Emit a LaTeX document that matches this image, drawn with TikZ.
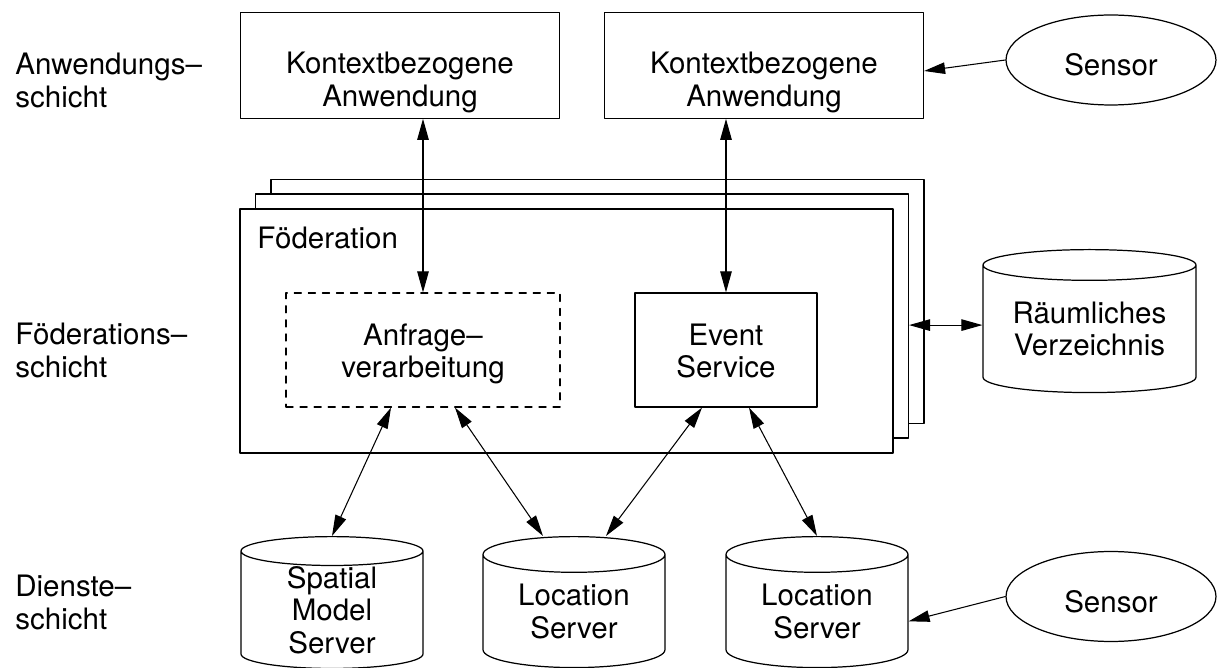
\documentclass[tikz,border=0pt]{standalone}
\usepackage{fontspec}
\setmainfont{TeX Gyre Heros}
\usetikzlibrary{arrows.meta,shapes.geometric}

\tikzset{
  box/.style={draw,line width=0.7pt,fill=white,align=center,inner sep=0pt},
  appbox/.style={box,minimum width=6.38cm,minimum height=2.11cm,text height=1.84cm,text depth=0.2cm},
  fedbox/.style={box,minimum width=13.06cm,minimum height=4.88cm},
  srvbox/.style={box,minimum width=3.64cm,minimum height=2.28cm,text height=1.31cm,text depth=0.2cm},
  sensor/.style={draw,line width=0.7pt,ellipse,minimum width=4.2cm,minimum height=1.8cm,inner sep=0pt,text height=0.74cm,text depth=0.1cm},
  db/.style={draw,line width=0.7pt,fill=white,cylinder,shape border rotate=90,aspect=0.32,align=center,inner sep=0pt},
  layer/.style={anchor=north west,align=left,inner sep=0pt},
  arr/.style={line width=0.6pt,<->},
  sarr/.style={line width=0.6pt,->}
}

\begin{document}
\begin{tikzpicture}[line cap=round,line join=round,>={Triangle[length=4.2mm,width=2.3mm]},x=0.02cm,y=-0.02cm,
    font=\fontsize{16.8pt}{18.6pt}\selectfont]
  \useasboundingbox (0,0) rectangle (1217,668);
  % Anwendungsschicht
  \node[layer] (lA) at (15,53) {Anwendungs--\\schicht};
  \node[appbox] (kapp1) at (400,65.5) {Kontextbezogene\\Anwendung};
  \node[appbox] (kapp2) at (764,65.5) {Kontextbezogene\\Anwendung};
  \node[sensor] (sens1) at (1111,60) {Sensor};
  % Foederationsschicht
  \node[layer] (lF) at (15,323) {Föderations--\\schicht};
  \node[fedbox] (fed3) at (597.5,301.5) {};
  \node[fedbox] (fed2) at (582,316) {};
  \node[fedbox] (fed1) at (566.5,331) {};
  \node[anchor=north west,inner sep=0pt] (fedtxt) at (257,227) {Föderation};
  \node[srvbox,minimum width=5.48cm,dash pattern=on 4pt off 4pt] (anfr) at (423,350) {Anfrage--\\verarbeitung};
  \node[srvbox] (evt) at (726,350) {Event\\Service};
  \node[db,aspect=0.2,minimum width=4.26cm,minimum height=2.86cm,anchor=north] (raum) at (1089.5,249) {Räumliches\\Verzeichnis};
  \coordinate (rw) at ([yshift=0.08cm]raum.west);
  % Diensteschicht
  \node[layer] (lD) at (15,575) {Dienste--\\schicht};
  \node[db,minimum width=3.64cm,minimum height=2.62cm,anchor=north] (sms) at (332,536) {Spatial\\Model\\Server};
  \node[db,minimum width=3.64cm,minimum height=2.62cm,anchor=north] (ls1) at (574,536) {Location\\Server};
  \node[db,minimum width=3.64cm,minimum height=2.62cm,anchor=north] (ls2) at (817,536) {Location\\Server};
  \node[sensor] (sens2) at (1111,596.5) {Sensor};
  % Verbindungen
  \draw[arr] (kapp1.south -| anfr.north) -- (anfr.north);
  \draw[arr] (kapp2.south -| evt.north) -- (evt.north);
  \draw[sarr] (sens1.west) -- ([yshift=-0.11cm]kapp2.east);
  \draw[arr] (rw) -- (rw -| fed2.east);
  \draw[arr] ([xshift=-0.64cm]anfr.south) -- (sms.north);
  \draw[arr] ([xshift=0.64cm]anfr.south) -- ([xshift=-0.62cm]ls1.north);
  \draw[arr] ([xshift=-0.48cm]evt.south) -- ([xshift=0.64cm]ls1.north);
  \draw[arr] ([xshift=0.46cm]evt.south) -- (ls2.north);
  \draw[sarr] (sens2.west) -- ([yshift=-0.2cm]ls2.east);
\end{tikzpicture}
\end{document}
